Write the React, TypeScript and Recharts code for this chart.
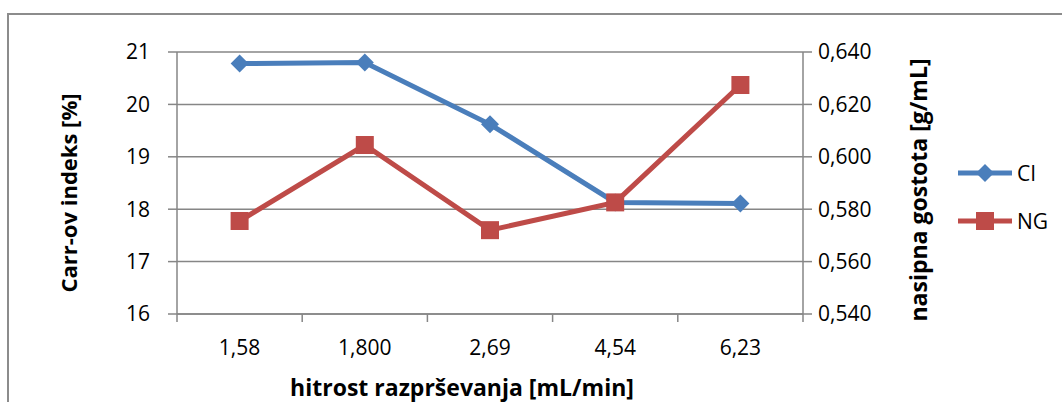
import { LineChart, Line, XAxis, YAxis, CartesianGrid, Label } from "recharts"

const rates = ["1,58", "1,800", "2,69", "4,54", "6,23"]
const carrIndex = [20.78, 20.8, 19.62, 18.13, 18.11]
const bulkDensity = [0.5755, 0.6045, 0.572, 0.5826, 0.6274]
const leftTicks = [16, 17, 18, 19, 20, 21]
const rightTicks = [0.54, 0.56, 0.58, 0.6, 0.62, 0.64]
const seriesNames = ["CI", "NG"]

const BLUE = "#4A7EBB"
const RED = "#BE4B48"
const GRID = "#868686"
const FONT = "'Open Sans', sans-serif"
// plot spans 177..803, five categories
const HALF_BAND = (803 - 177) / rates.length / 2

const chartData = rates.map((rate, i) => ({ rate, ci: carrIndex[i], ng: bulkDensity[i] }))

const diamondPath = (cx: number, cy: number, r: number) =>
  `M${cx},${cy - r}L${cx + r},${cy}L${cx},${cy + r}L${cx - r},${cy}Z`

function DiamondDot(props: any) {
  const { cx, cy, index } = props
  if (cx == null || cy == null) return <g key={`d-${index}`} />
  return <path key={`d-${index}`} d={diamondPath(cx, cy, 9)} fill={BLUE} />
}

function SquareDot(props: any) {
  const { cx, cy, index } = props
  if (cx == null || cy == null) return <g key={`s-${index}`} />
  return <rect key={`s-${index}`} x={cx - 9} y={cy - 9} width={18} height={18} fill={RED} />
}

// category label plus Excel-style tick marks on the category boundaries
function CategoryTick(props: any) {
  const { x, y, payload, index } = props
  const top = y - 26
  const edges = [x - HALF_BAND]
  if (index === rates.length - 1) edges.push(x + HALF_BAND)
  return (
    <g>
      {edges.map((ex) => (
        <line key={ex} x1={ex} x2={ex} y1={top} y2={top + 8} stroke={GRID} strokeWidth={1.5} />
      ))}
      <text x={x} y={y} dy="0.71em" textAnchor="middle" fontFamily={FONT} fontSize={21} fill="#000">
        {payload.value}
      </text>
    </g>
  )
}

function YTitle(props: any) {
  const { viewBox, text, offsetX, dy, size } = props
  const cx = viewBox.x + offsetX
  const cy = viewBox.y + viewBox.height / 2 + dy
  return (
    <text
      x={cx}
      y={cy}
      transform={`rotate(-90 ${cx} ${cy})`}
      textAnchor="middle"
      dominantBaseline="central"
      fontFamily={FONT}
      fontWeight="bold"
      fontSize={size}
      fill="#000"
    >
      {text}
    </text>
  )
}

function XTitle(props: any) {
  const { viewBox, text } = props
  return (
    <text
      x={viewBox.x + 285}
      y={387}
      textAnchor="middle"
      dominantBaseline="central"
      fontFamily={FONT}
      fontWeight="bold"
      fontSize={23}
      fill="#000"
    >
      {text}
    </text>
  )
}

function LegendBox() {
  return (
    <svg width={1062} height={402} style={{ position: "absolute", left: 0, top: 0, pointerEvents: "none" }}>
      {seriesNames.map((name, i) => {
        const y = 173 + i * 48
        return (
          <g key={name}>
            <line x1={958} x2={1012} y1={y} y2={y} stroke={i === 0 ? BLUE : RED} strokeWidth={5} />
            {i === 0 ? (
              <path d={diamondPath(985, y, 9)} fill={BLUE} />
            ) : (
              <rect x={976} y={y - 9} width={18} height={18} fill={RED} />
            )}
            <text x={1017} y={y} dominantBaseline="central" fontFamily={FONT} fontSize={21} fill="#000">
              {name}
            </text>
          </g>
        )
      })}
    </svg>
  )
}

export default function App() {
  const tickStyle = { fill: "#000", fontSize: 21, fontFamily: FONT }
  return (
    <div
      style={{
        position: "fixed",
        left: 0,
        top: 0,
        width: 1062,
        height: 402,
        overflow: "hidden",
        background: "#fff",
      }}
    >
      <div
        style={{
          position: "absolute",
          left: 7,
          top: 13,
          width: 1200,
          height: 600,
          borderLeft: "2px solid #8c8c8c",
          borderTop: "2px solid #8c8c8c",
        }}
      />
      <div style={{ position: "absolute", left: 0, top: 0 }}>
        <LineChart width={1062} height={402} data={chartData} margin={{ top: 52, right: 129, bottom: 0, left: 0 }}>
          <CartesianGrid vertical={false} stroke={GRID} strokeWidth={1.5} yAxisId="left" />
          <XAxis
            dataKey="rate"
            scale="band"
            height={88}
            interval={0}
            tickLine={false}
            axisLine={{ stroke: GRID, strokeWidth: 1.5 }}
            tickSize={0}
            tickMargin={26}
            tick={<CategoryTick />}
          >
            <Label content={<XTitle text="hitrost razprševanja [mL/min]" />} />
          </XAxis>
          <YAxis
            yAxisId="left"
            width={177}
            domain={[16, 21]}
            ticks={leftTicks}
            interval={0}
            tickSize={9}
            tickMargin={18}
            tick={tickStyle}
            axisLine={{ stroke: GRID, strokeWidth: 1.5 }}
            tickLine={{ stroke: GRID, strokeWidth: 1.5 }}
          >
            <Label content={<YTitle text="Carr-ov indeks [%]" offsetX={68} dy={10} size={22} />} />
          </YAxis>
          <YAxis
            yAxisId="right"
            orientation="right"
            width={130}
            domain={[0.54, 0.64]}
            ticks={rightTicks}
            interval={0}
            tickSize={9}
            tickMargin={6}
            tick={tickStyle}
            tickFormatter={(v: number) => v.toFixed(3).replace(".", ",")}
            axisLine={{ stroke: GRID, strokeWidth: 1.5 }}
            tickLine={{ stroke: GRID, strokeWidth: 1.5 }}
          >
            <Label content={<YTitle text="nasipna gostota [g/mL]" offsetX={115} dy={7} size={23} />} />
          </YAxis>
          <Line
            yAxisId="left"
            type="linear"
            dataKey="ci"
            name="CI"
            stroke={BLUE}
            strokeWidth={5}
            dot={DiamondDot}
            activeDot={false}
            isAnimationActive={false}
          />
          <Line
            yAxisId="right"
            type="linear"
            dataKey="ng"
            name="NG"
            stroke={RED}
            strokeWidth={5}
            dot={SquareDot}
            activeDot={false}
            isAnimationActive={false}
          />
        </LineChart>
      </div>
      <LegendBox />
    </div>
  )
}
